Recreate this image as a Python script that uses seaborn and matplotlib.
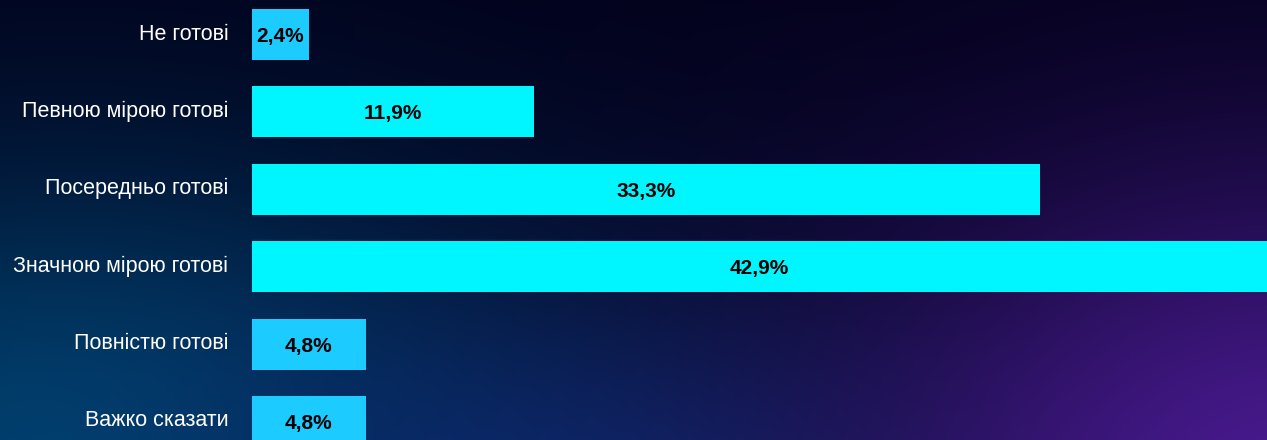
import numpy as np
import matplotlib
matplotlib.use("Agg")
import matplotlib.pyplot as plt
import matplotlib.transforms as mtransforms
import seaborn as sns

categories = ["Не готові", "Певною мірою готові", "Посередньо готові",
              "Значною мірою готові", "Повністю готові", "Важко сказати"]
values = [2.4, 11.9, 33.3, 42.9, 4.8, 4.8]
bar_colors = ["#1ccbff", "#00f6ff", "#00f6ff", "#00f6ff", "#1ccbff", "#1ccbff"]

sns.set_theme(style="white")
plt.rcParams["font.family"] = ["Liberation Sans", "DejaVu Sans"]

W, H, DPI = 1267, 440, 100
fig = plt.figure(figsize=(W / DPI, H / DPI), dpi=DPI)

# dark gradient backdrop: navy top, teal lower-left, violet lower-right
yy, xx = np.mgrid[0:H, 0:W].astype(float)
base = np.array([2, 1, 26], float)
img = np.tile(base, (H, W, 1))

def blob(cx, cy, rx, ry, color, strength=1.0):
    d2 = ((xx - cx) / rx) ** 2 + ((yy - cy) / ry) ** 2
    w = strength * np.exp(-d2)
    return w[..., None], np.array(color, float)

for cx, cy, rx, ry, col, s in [
    (60, 470, 520, 310, (0, 66, 110), 1.0),
    (520, 520, 380, 200, (10, 42, 110), 0.85),
    (1300, 500, 470, 340, (72, 26, 142), 1.0),
]:
    w, c = blob(cx, cy, rx, ry, col, s)
    img = img * (1 - w) + c * w

bg = fig.add_axes([0, 0, 1, 1], zorder=-1)
bg.imshow(np.clip(img, 0, 255).astype(np.uint8), aspect="auto",
          extent=(0, 1, 0, 1), origin="upper")
bg.set_axis_off()

ax = fig.add_axes([252 / W, 0, 1 - 252 / W, 1])
ax.set_facecolor("none")
sns.barplot(x=values, y=categories, hue=categories, palette=bar_colors,
            width=0.66, legend=False, ax=ax, orient="h", saturation=1,
            linewidth=0, edgecolor="none")

labels = [f"{v:.1f}%".replace(".", ",") for v in values]
for i, (v, lab) in enumerate(zip(values, labels)):
    ax.text(v / 2, i, lab, ha="center", va="center_baseline", fontsize=15,
            fontweight="bold", color="black")

ax.set_xlim(0, 42.9)
ax.set_ylim(5.24, -0.446)
ax.set_xlabel("")
ax.set_ylabel("")
ax.set_xticks([])
ax.tick_params(axis="y", length=0, pad=17, labelsize=15.5, labelcolor="white")
shift = mtransforms.ScaledTranslation(0, 3 / DPI, fig.dpi_scale_trans)
for t in ax.get_yticklabels():
    t.set_transform(t.get_transform() + shift)
for sp in ax.spines.values():
    sp.set_visible(False)

fig.savefig("out.png", dpi=DPI)
